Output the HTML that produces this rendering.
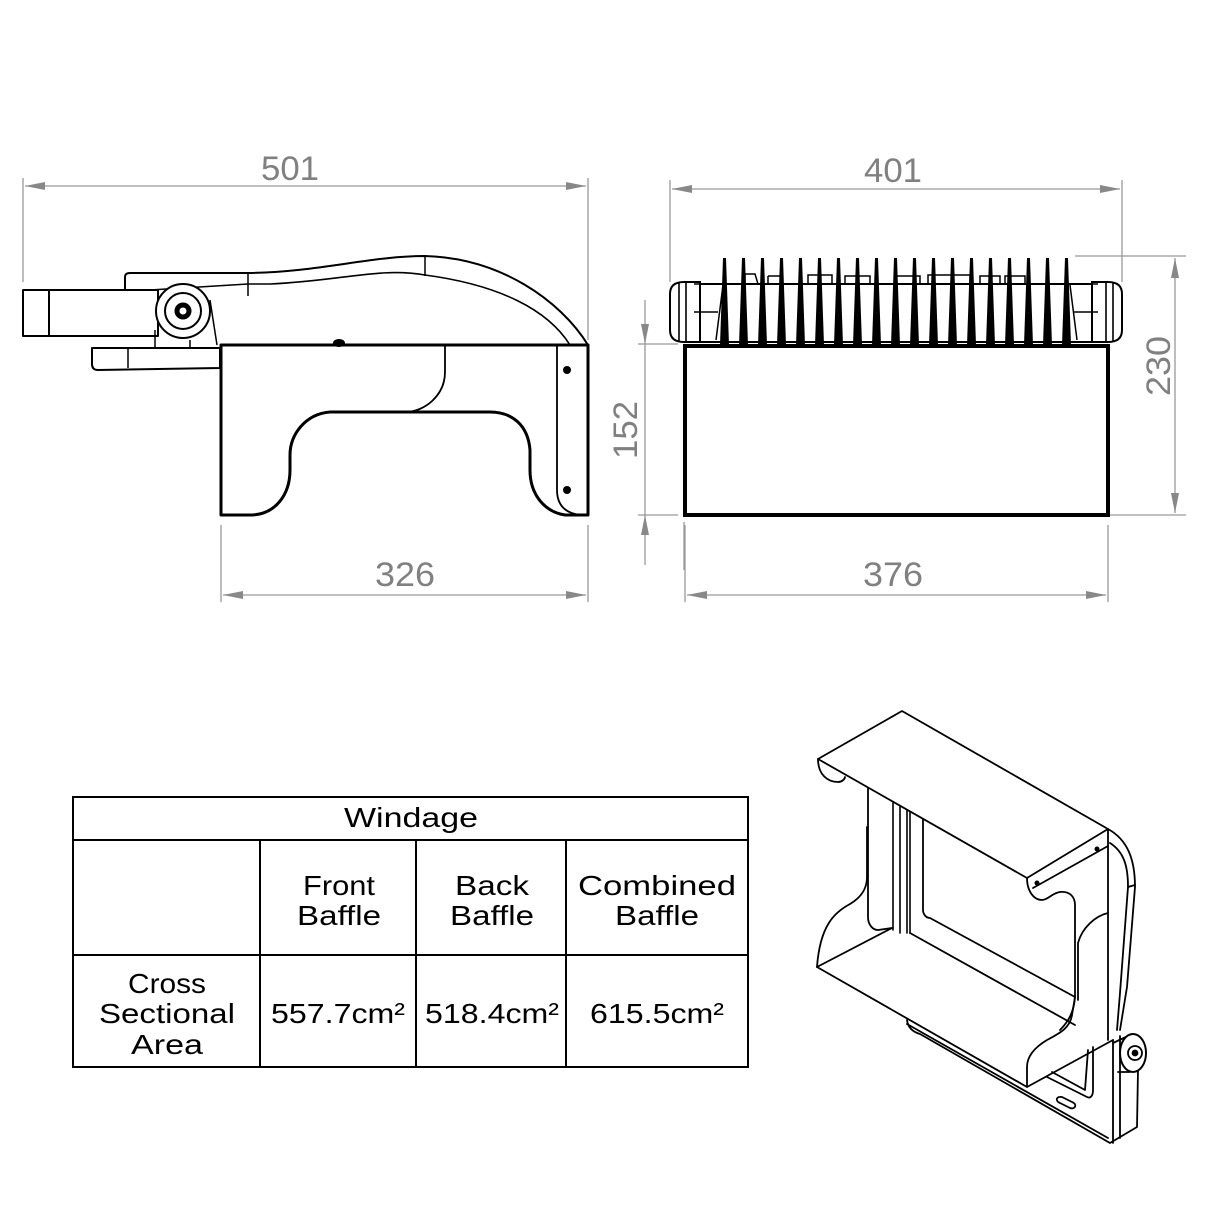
<!DOCTYPE html>
<html><head><style>html,body{margin:0;padding:0;background:#fff}svg{display:block}</style></head>
<body>
<svg width="1220" height="1220" viewBox="0 0 1220 1220" xmlns="http://www.w3.org/2000/svg" font-family="Liberation Sans, DejaVu Sans, sans-serif">
<defs>
<marker id="a" viewBox="0 0 20 8" refX="20" refY="4" markerWidth="20" markerHeight="8" orient="auto-start-reverse" markerUnits="userSpaceOnUse"><path d="M0,0 L20,4 L0,8 z" fill="#888"/></marker>
</defs>
<!-- Dimensions -->
<g stroke="#999" stroke-width="1.3" fill="none">
<line x1="23" y1="178" x2="23" y2="282"/><line x1="588" y1="178" x2="588" y2="340"/>
<line x1="25" y1="186" x2="586" y2="186" marker-start="url(#a)" marker-end="url(#a)"/>
<line x1="670" y1="180" x2="670" y2="282"/><line x1="1122" y1="180" x2="1122" y2="282"/>
<line x1="672" y1="189" x2="1120" y2="189" marker-start="url(#a)" marker-end="url(#a)"/>
<line x1="1075" y1="256" x2="1186" y2="256"/><line x1="1110" y1="515" x2="1186" y2="515"/>
<line x1="1175" y1="258" x2="1175" y2="513" marker-start="url(#a)" marker-end="url(#a)"/>
<line x1="638" y1="344" x2="678" y2="344"/><line x1="638" y1="515" x2="678" y2="515"/>
<line x1="645" y1="300" x2="645" y2="344" marker-end="url(#a)"/>
<line x1="645" y1="344" x2="645" y2="515"/>
<line x1="645" y1="565" x2="645" y2="515" marker-end="url(#a)"/>
<line x1="684" y1="522" x2="684" y2="570"/>
<line x1="221" y1="525" x2="221" y2="602"/><line x1="588" y1="525" x2="588" y2="602"/>
<line x1="223" y1="595" x2="586" y2="595" marker-start="url(#a)" marker-end="url(#a)"/>
<line x1="685" y1="525" x2="685" y2="602"/><line x1="1108" y1="525" x2="1108" y2="602"/>
<line x1="687" y1="595" x2="1106" y2="595" marker-start="url(#a)" marker-end="url(#a)"/>
</g>
<g fill="#808080" font-size="34" text-anchor="middle">
<text x="290" y="180" textLength="58" lengthAdjust="spacingAndGlyphs">501</text>
<text x="893" y="182" textLength="58" lengthAdjust="spacingAndGlyphs">401</text>
<text x="405" y="586" textLength="60" lengthAdjust="spacingAndGlyphs">326</text>
<text x="893" y="586" textLength="60" lengthAdjust="spacingAndGlyphs">376</text>
<text transform="translate(637,430) rotate(-90)" textLength="58" lengthAdjust="spacingAndGlyphs">152</text>
<text transform="translate(1170,366) rotate(-90)" textLength="60" lengthAdjust="spacingAndGlyphs">230</text>
</g>
<!-- Side view -->
<g stroke="#000" stroke-width="2" fill="none" stroke-linejoin="round">
<rect x="23" y="290" width="135" height="46" fill="#fff"/>
<line x1="49" y1="290" x2="49" y2="336"/>
<path d="M125,290 L125,277 Q125,273 130,273 L248,273 C320,272 370,256 425,256 C500,258 560,300 588,345"/>
<path d="M150,290 L248,284 L270,284 C340,281 380,267 425,275 C500,285 548,310 570,345" stroke-width="1.6"/>
<line x1="248" y1="273" x2="248" y2="296" stroke-width="1.5"/>
<line x1="425" y1="256" x2="425" y2="276" stroke-width="1.5"/>
<path d="M92,348 L220,348 L220,368 L98,370 Q92,370 92,364 z" fill="#fff"/>
<line x1="128" y1="348" x2="128" y2="368" stroke-width="1.5"/>
<path d="M155,348 L155,330 M190,340 L190,348 M210,300 L217,345" stroke-width="1.5"/>
<circle cx="183" cy="311" r="27" fill="#fff"/>
<circle cx="183" cy="311" r="18"/>
<circle cx="183" cy="311" r="6" stroke-width="5"/>
<path d="M221,345 L588,345 L588,515 L565,515 C545,512 530,495 530,470 L530,450 C528,425 512,412 490,412 L330,412 C305,414 290,435 290,455 L290,470 C290,495 275,515 250,515 L221,515 Z" stroke-width="3" fill="#fff"/>
<path d="M445,345 L445,372 C445,395 425,412 405,412" stroke-width="1.8"/>
<path d="M557,345 L557,490 C557,505 565,513 580,515" stroke-width="1.8"/>
<ellipse cx="339" cy="343" rx="5" ry="3" fill="#000"/>
</g>
<circle cx="567" cy="370" r="4"/><circle cx="567" cy="490" r="4"/>
<!-- Front view -->
<g stroke="#000" fill="none">
<rect x="685" y="346" width="423" height="169" stroke-width="4"/>
<path d="M684,282 L700,282 L700,342 L684,342 Q670,342 670,330 L670,294 Q670,282 684,282 Z" stroke-width="2"/>
<path d="M679,282 L679,342 M686,282 L686,342 M694,284 L718,284 M694,312 L718,312 M700,312 L700,284" stroke-width="1.6"/>
<path d="M1108,282 L1092,282 L1092,342 L1108,342 Q1122,342 1122,330 L1122,294 Q1122,282 1108,282 Z" stroke-width="2"/>
<path d="M1113,282 L1113,342 M1106,282 L1106,342 M1098,284 L1074,284 M1098,312 L1074,312" stroke-width="1.6"/>
<line x1="700" y1="284" x2="1092" y2="284" stroke-width="2"/>
<line x1="700" y1="342" x2="1092" y2="342" stroke-width="2"/>
<path d="M716,340 L723,285 M1077,340 L1070,285" stroke-width="1.5"/>
<path d="M745,284 L745,274 L755,274 L758,284 M768,284 L768,276 M768,276 L780,276 L782,284 M808,284 L808,275 L832,275 L832,284 M845,284 L845,276 L870,276 L870,284 M896,284 L896,276 L920,276 L920,284 M928,284 L928,275 L970,275 L970,284 M980,284 L980,276 L1000,276 L1000,284 M1005,284 L1005,276 L1025,276 L1025,284" stroke-width="1.5"/>
</g>
<g fill="#000">
<path d="M720,345 L723,258 L726,258 L729,345 Z"/><path d="M739,345 L742,258 L745,258 L748,345 Z"/><path d="M758,345 L761,258 L764,258 L767,345 Z"/><path d="M777,345 L780,258 L783,258 L786,345 Z"/><path d="M796,345 L799,258 L802,258 L805,345 Z"/><path d="M815,345 L818,258 L821,258 L824,345 Z"/><path d="M834,345 L837,258 L840,258 L843,345 Z"/><path d="M853,345 L856,258 L859,258 L862,345 Z"/><path d="M872,345 L875,258 L878,258 L881,345 Z"/><path d="M891,345 L894,258 L897,258 L900,345 Z"/><path d="M910,345 L913,258 L916,258 L919,345 Z"/><path d="M929,345 L932,258 L935,258 L938,345 Z"/><path d="M948,345 L951,258 L954,258 L957,345 Z"/><path d="M967,345 L970,258 L973,258 L976,345 Z"/><path d="M986,345 L989,258 L992,258 L995,345 Z"/><path d="M1005,345 L1008,258 L1011,258 L1014,345 Z"/><path d="M1024,345 L1027,258 L1030,258 L1033,345 Z"/><path d="M1043,345 L1046,258 L1049,258 L1052,345 Z"/><path d="M1062,345 L1065,258 L1068,258 L1071,345 Z"/>
</g>
<!-- Table -->
<g stroke="#000" stroke-width="2" fill="none">
<rect x="73" y="797" width="675" height="270"/>
<line x1="73" y1="840" x2="748" y2="840"/><line x1="73" y1="955" x2="748" y2="955"/>
<line x1="260" y1="840" x2="260" y2="1067"/><line x1="416" y1="840" x2="416" y2="1067"/><line x1="566" y1="840" x2="566" y2="1067"/>
</g>
<g fill="#000" font-size="28" text-anchor="middle">
<text x="411" y="827" textLength="134" lengthAdjust="spacingAndGlyphs">Windage</text>
<text x="339" y="895" textLength="72" lengthAdjust="spacingAndGlyphs">Front</text>
<text x="339" y="925" textLength="84" lengthAdjust="spacingAndGlyphs">Baffle</text>
<text x="492" y="895" textLength="74" lengthAdjust="spacingAndGlyphs">Back</text>
<text x="492" y="925" textLength="84" lengthAdjust="spacingAndGlyphs">Baffle</text>
<text x="657" y="895" textLength="158" lengthAdjust="spacingAndGlyphs">Combined</text>
<text x="657" y="925" textLength="84" lengthAdjust="spacingAndGlyphs">Baffle</text>
<text x="167" y="993" textLength="78" lengthAdjust="spacingAndGlyphs">Cross</text>
<text x="167" y="1023" textLength="136" lengthAdjust="spacingAndGlyphs">Sectional</text>
<text x="167" y="1054" textLength="72" lengthAdjust="spacingAndGlyphs">Area</text>
<text x="338" y="1023" textLength="134" lengthAdjust="spacingAndGlyphs">557.7cm²</text>
<text x="492" y="1023" textLength="134" lengthAdjust="spacingAndGlyphs">518.4cm²</text>
<text x="657" y="1023" textLength="134" lengthAdjust="spacingAndGlyphs">615.5cm²</text>
</g>
<!-- Isometric -->
<g stroke="#000" stroke-width="1.8" fill="none" stroke-linejoin="round" stroke-linecap="round">
<!-- bottom housing/bracket behind -->
<path d="M907,1020 C908,1028 913,1032 920,1034 L1110,1143 L1137,1127 L1138,1070"/>
<path d="M907,1024 L1108,1138"/>
<path d="M1113,1040 L1113,1143 M1120,1036 L1120,1138"/>
<path d="M1047,1077 L1087,1097 C1091,1099 1093,1095 1093,1090 L1093,1047"/>
<path d="M1052,1072 L1085,1090 L1088,1050"/>
<path d="M1060,1103 L1070,1108 C1075,1110 1078,1104 1072,1102 L1062,1097 C1056,1096 1055,1101 1060,1103 Z"/>
<!-- back plate -->
<path d="M868,788 L868,917 C868,925 873,930 878,930 L892,928"/>
<path d="M893,803 L893,930 M900,806 L900,933 M907,809 L907,933 M910,811 L910,933" stroke-width="1.6"/>
<path d="M923,818 L923,910 C923,914 926,918 930,918 L1075,997"/>
<!-- left wave of bottom panel -->
<path d="M867,827 L867,877 C867,890 860,898 850,904 C835,912 820,925 817,967"/>
<!-- bottom panel -->
<path d="M817,967 L892,928 M910,933 L1075,1025"/>
<path d="M817,967 L1027,1087 L1113,1040"/>
<path d="M1027,1087 L1027,1067 C1027,1055 1037,1046 1047,1040 C1060,1033 1070,1028 1072,1015 L1075,997"/>
<!-- right face / side plate -->
<path d="M1108,913 C1095,916 1082,928 1078,943 L1078,1000"/>
<path d="M1108,829 L1108,1040"/>
<!-- top panel -->
<path d="M818,759 L902,711 L1108,829 L1027,878 Z" fill="#fff"/>
<path d="M818,759 C818,775 828,782 838,782 C842,782 845,779 845,777"/>
<path d="M1033,888 L1108,846"/>
<path d="M1027,878 C1027,890 1033,900 1042,900 C1048,900 1052,893 1060,892 C1070,891 1075,897 1075,905 L1075,997 C1074,1010 1070,1020 1060,1030"/>
<!-- arm -->
<path d="M1108,829 C1128,840 1135,860 1135,887 L1127,987 L1120,1030"/>
<path d="M1110,843 C1124,852 1128,866 1128,887 L1120,993 L1117,1030"/>
<path d="M1128,887 L1135,885"/>
<!-- knob -->
<path d="M1113,1043 L1128,1036 M1118,1072 L1130,1072"/>
<ellipse cx="1133" cy="1053" rx="13" ry="19" fill="#fff" stroke-width="2"/>
<circle cx="1135" cy="1053" r="7"/><circle cx="1135" cy="1053" r="2.5" fill="#000"/>
</g>
<circle cx="1037" cy="883" r="2.5"/><circle cx="1097" cy="849" r="2.5"/>
</svg>
</body></html>
